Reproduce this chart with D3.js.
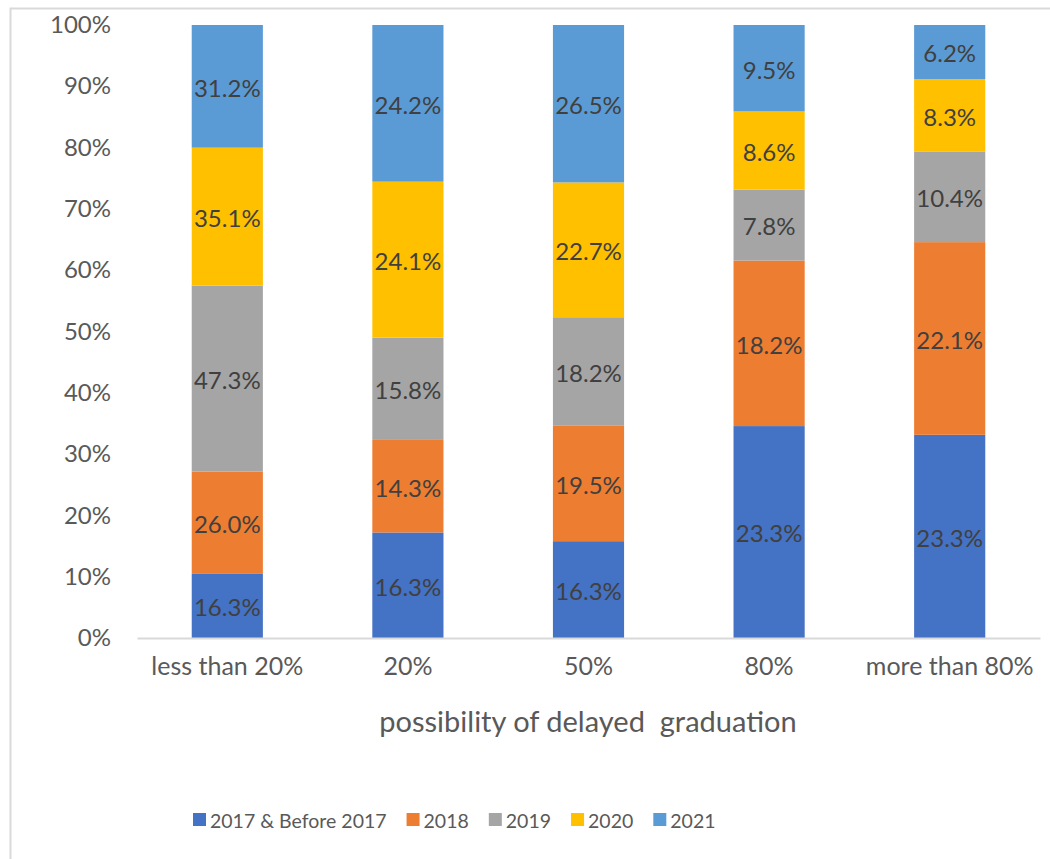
<!DOCTYPE html>
<html>
<head>
<meta charset="utf-8">
<script src="https://cdn.jsdelivr.net/npm/d3@7"></script>
<style>
  body { margin: 0; background: #fff; }
  svg { display: block; font-family: Lato, "Open Sans", "Noto Sans", sans-serif; }
</style>
</head>
<body>
<svg id="chart" width="1050" height="859"></svg>
<script>
// Categories along the x axis
const categories = ["less than 20%", "20%", "50%", "80%", "more than 80%"];
// Series (cohort years), stacked bottom to top
const seriesNames = ["2017 & Before 2017", "2018", "2019", "2020", "2021"];
const seriesColors = ["#4472C4", "#ED7D31", "#A5A5A5", "#FFC000", "#5B9BD5"];
// Values per series, one per category (percent)
const s2017 = [16.3, 16.3, 16.3, 23.3, 23.3];
const s2018 = [26.0, 14.3, 19.5, 18.2, 22.1];
const s2019 = [47.3, 15.8, 18.2, 7.8, 10.4];
const s2020 = [35.1, 24.1, 22.7, 8.6, 8.3];
const s2021 = [31.2, 24.2, 26.5, 9.5, 6.2];
const yTicks = [0, 0.1, 0.2, 0.3, 0.4, 0.5, 0.6, 0.7, 0.8, 0.9, 1.0];
const xTitle = "possibility of delayed  graduation";

const seriesValues = [s2017, s2018, s2019, s2020, s2021];
const rows = categories.map((c, i) => {
  const r = { category: c };
  seriesNames.forEach((s, j) => r[s] = seriesValues[j][i]);
  return r;
});

const stacked = d3.stack().keys(seriesNames).offset(d3.stackOffsetExpand)(rows);

const svg = d3.select("#chart");
const W = 1050, H = 859;

// chart frame
svg.append("rect")
  .attr("x", 10.5).attr("y", 8.5)
  .attr("width", W + 20).attr("height", H + 20)
  .attr("fill", "none").attr("stroke", "#d9d9d9").attr("stroke-width", 2);

const plot = { left: 137, right: 1040, top: 25, bottom: 638 };

const x = d3.scaleBand().domain(categories)
  .range([plot.left, plot.right]).paddingInner(0.606).paddingOuter(0.303);
const y = d3.scaleLinear().domain([0, 1]).range([plot.bottom, plot.top]);

// y axis labels
const yAxis = d3.axisLeft(y).tickValues(yTicks).tickFormat(d3.format(".0%")).tickSize(0).tickPadding(0);
const gy = svg.append("g").attr("transform", `translate(111,0)`).call(yAxis);
gy.select(".domain").remove();
gy.selectAll("text").attr("font-size", 24).attr("fill", "#595959")
  .attr("font-family", "Lato, 'Open Sans', sans-serif");

// bars
const layer = svg.append("g").selectAll("g").data(stacked).join("g")
  .attr("fill", (d, i) => seriesColors[i]);
layer.selectAll("rect").data(d => d).join("rect")
  .attr("x", d => x(d.data.category))
  .attr("width", x.bandwidth())
  .attr("y", d => y(d[1]))
  .attr("height", d => y(d[0]) - y(d[1]));

// value labels
const labels = svg.append("g");
stacked.forEach((ser) => {
  ser.forEach(d => {
    labels.append("text")
      .attr("x", x(d.data.category) + x.bandwidth() / 2)
      .attr("y", y((d[0] + d[1]) / 2) + 2)
      .attr("dy", "0.35em")
      .attr("text-anchor", "middle")
      .attr("font-size", 24)
      .attr("fill", "#404040")
      .text(d3.format(".1f")(d.data[ser.key]) + "%");
  });
});

// x axis
const xAxis = d3.axisBottom(x).tickSize(0).tickPadding(28);
const gx = svg.append("g").attr("transform", `translate(0,${plot.bottom})`).call(xAxis);
gx.select(".domain").attr("stroke", "#d9d9d9").attr("stroke-width", 2);
gx.selectAll("text").attr("font-size", 25).attr("fill", "#595959")
  .attr("dy", "0.35em")
  .attr("font-family", "Lato, 'Open Sans', sans-serif");

// x axis title
svg.append("text")
  .attr("x", 588).attr("y", 722)
  .attr("dy", "0.35em")
  .attr("text-anchor", "middle")
  .attr("font-size", 29).attr("fill", "#595959")
  .style("white-space", "pre")
  .text(xTitle);

// legend: swatch + label per series
const legend = svg.append("g").attr("transform", "translate(193,820)");
let lx = 0;
seriesNames.forEach((name, i) => {
  const g = legend.append("g").attr("transform", `translate(${lx},0)`);
  g.append("rect").attr("x", 0).attr("y", -7).attr("width", 13).attr("height", 13)
    .attr("fill", seriesColors[i]);
  const t = g.append("text").attr("x", 17).attr("y", 1).attr("dy", "0.35em")
    .attr("font-size", 19.5).attr("fill", "#595959").text(name);
  const w = t.node().getComputedTextLength();
  lx += 17 + w + 20;
});
</script>
</body>
</html>
